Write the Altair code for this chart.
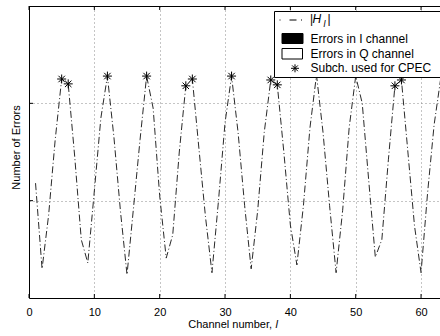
import altair as alt
import pandas as pd

# |H_l| per subchannel (channels 1..64)
channels = list(range(1, 65))
h_mag = [1.18, 0.30, 0.85, 1.62, 2.25, 2.20, 1.45, 0.60, 0.36, 1.10,
         1.85, 2.28, 1.65, 0.89, 0.24, 0.93, 1.63, 2.28, 1.95, 1.05,
         0.41, 0.65, 1.50, 2.18, 2.25, 1.54, 0.84, 0.26, 1.00, 1.80,
         2.28, 1.70, 0.95, 0.30, 0.90, 1.70, 2.24, 2.19, 1.50, 0.75,
         0.34, 0.95, 1.75, 2.29, 1.70, 0.95, 0.26, 0.90, 1.75, 2.28,
         2.00, 1.20, 0.42, 0.60, 1.42, 2.18, 2.24, 1.49, 0.74, 0.26,
         1.08, 1.78, 2.25, 2.10]
# subchannels picked for common phase error correction
cpec_channels = [5, 6, 12, 18, 24, 25, 31, 37, 38, 56, 57]

x_ticks = [0, 10, 20, 30, 40, 50, 60]
y_ticks = [1, 2]
legend_labels = ["|H", "Errors in I channel", "Errors in Q channel", "Subch. used for CPEC"]

FONT = "Liberation Sans"
W, H = 411, 292
STAR = "M-1,0L1,0M0,-1L0,1M-0.72,-0.72L0.72,0.72M-0.72,0.72L0.72,-0.72"
DASHDOT = [7, 2.5, 1, 2.5]

curve = pd.DataFrame({"ch": channels, "h": h_mag})
stars = curve[curve["ch"].isin(cpec_channels)]
xt = pd.DataFrame({"v": x_ticks})
yt = pd.DataFrame({"v": y_ticks})
one = pd.DataFrame({"k": [0]})

xs = alt.Scale(domain=[0, 62.9], nice=False, zero=False)
ys = alt.Scale(domain=[0, 3], nice=False, zero=False)

x_axis = alt.Axis(values=x_ticks, title=None, ticks=False, labelFont=FONT,
                  labelFontSize=11, labelColor="black", labelPadding=8,
                  labelFlush=False, domainColor="black", gridColor="#8a8a8a",
                  gridDash=[1, 3])
y_axis = alt.Axis(values=y_ticks, labels=False, ticks=False, title="Number of Errors",
                  titleFont=FONT, titleFontSize=11, titleFontWeight="normal",
                  titleColor="black", titleX=-12.5, titleY=141, titleBaseline="middle",
                  domainColor="black", gridColor="#8a8a8a", gridDash=[1, 3])

line = alt.Chart(curve).mark_line(color="#111", strokeWidth=0.9, strokeDash=DASHDOT,
                                  clip=True).encode(
    x=alt.X("ch:Q", scale=xs, axis=x_axis),
    y=alt.Y("h:Q", scale=ys, axis=y_axis),
)

star_marks = alt.Chart(stars).mark_point(shape=STAR, size=81, color="black",
                                         strokeWidth=1, opacity=1, clip=True).encode(
    x=alt.X("ch:Q", scale=xs), y=alt.Y("h:Q", scale=ys))

# inward tick marks on bottom, top and left frame edges
bottom_ticks = alt.Chart(xt).mark_rule(color="black", strokeWidth=1).encode(
    x=alt.X("v:Q", scale=xs), y=alt.value(H), y2=alt.value(H - 4))
top_ticks = alt.Chart(xt).mark_rule(color="black", strokeWidth=1).encode(
    x=alt.X("v:Q", scale=xs), y=alt.value(0), y2=alt.value(4))
left_ticks = alt.Chart(yt).mark_rule(color="black", strokeWidth=1).encode(
    y=alt.Y("v:Q", scale=ys), x=alt.value(0), x2=alt.value(4))
top_border = alt.Chart(one).mark_rule(color="black", strokeWidth=1).encode(
    x=alt.value(0), x2=alt.value(W + 10), y=alt.value(0.5))

# legend box
leg_box = alt.Chart(one).mark_rect(fill="white", stroke="black", strokeWidth=1).encode(
    x=alt.value(245.5), x2=alt.value(W + 20), y=alt.value(5.5), y2=alt.value(71.5))
leg_line = alt.Chart(one).mark_rule(color="black", strokeWidth=1,
                                    strokeDash=[1, 9, 7, 4.5, 1, 20]).encode(
    x=alt.value(250.5), x2=alt.value(274), y=alt.value(14))
leg_fill = alt.Chart(one).mark_rect(fill="black", stroke="black", strokeWidth=1).encode(
    x=alt.value(253), x2=alt.value(274), y=alt.value(27.5), y2=alt.value(37.5))
leg_empty = alt.Chart(one).mark_rect(fill="white", stroke="black", strokeWidth=1).encode(
    x=alt.value(253), x2=alt.value(273.5), y=alt.value(42.5), y2=alt.value(53))
leg_star = alt.Chart(one).mark_point(shape=STAR, size=64, color="black", strokeWidth=1,
                                     opacity=1).encode(x=alt.value(266), y=alt.value(62.3))


def label(text, x, y, size=12, **kw):
    return alt.Chart(one).mark_text(font=FONT, fontSize=size, color="black", align="left",
                                    baseline="middle", **kw).encode(
        x=alt.value(x), y=alt.value(y), text=alt.value(text))


leg_texts = [
    label("|", 281, 13),
    label(legend_labels[0][1], 283.5, 13, fontStyle="italic"),
    label("l", 294.5, 17.5, size=9, fontStyle="italic"),
    label("|", 298.5, 13),
    label(legend_labels[1], 281.5, 32.7),
    label(legend_labels[2], 281.5, 47.5),
    label(legend_labels[3], 281.5, 62.3),
]

x_title = [
    label("Channel number,", 159.3, 319, size=11),
    label("l", 246.5, 319, size=11, fontStyle="italic"),
]

chart = alt.layer(
    line, star_marks, bottom_ticks, top_ticks, left_ticks, top_border,
    leg_box, leg_line, leg_fill, leg_empty, leg_star, *leg_texts, *x_title,
).properties(
    width=W, height=H,
    padding={"left": 29, "top": 6, "right": 0, "bottom": 38},
    autosize=alt.AutoSizeParams(type="none"),
).configure_view(stroke=None).configure(background="white")

chart.save("out.html", embed_options={"renderer": "svg", "actions": False})
